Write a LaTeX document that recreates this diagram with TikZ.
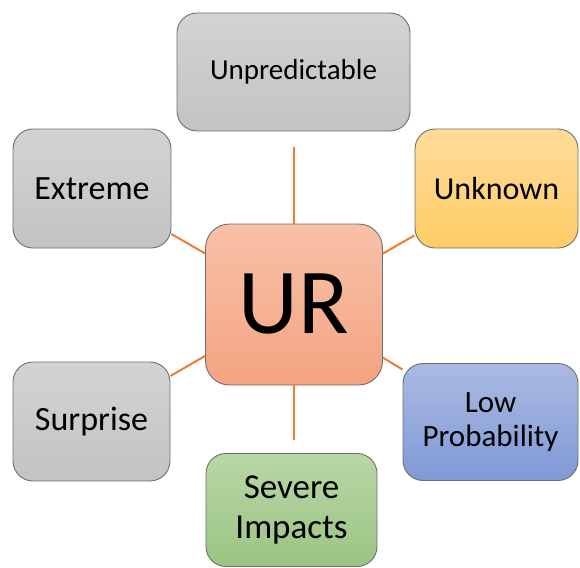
\documentclass[tikz,border=0pt]{standalone}
\usepackage{fontspec}
\setmainfont{Carlito}
\begin{document}
\begin{tikzpicture}[x=1pt,y=-1pt,
  box/.style={rectangle, rounded corners=20pt, draw=boxedge, line width=0.9pt,
    inner sep=0pt, align=center, text=black},
  graybox/.style={box, top color=grayTop, bottom color=grayBot},
  link/.style={draw=linkorange, line width=2pt}]
\definecolor{boxedge}{HTML}{6E6E6E}
\definecolor{grayTop}{HTML}{D3D3D3}
\definecolor{grayBot}{HTML}{C3C3C3}
\definecolor{linkorange}{HTML}{ED7D31}
\definecolor{urTop}{HTML}{F8C1A7}
\definecolor{urBot}{HTML}{F4A482}
\definecolor{ykTop}{HTML}{FFDC9A}
\definecolor{ykBot}{HTML}{FFCC66}
\definecolor{lpTop}{HTML}{AABAE2}
\definecolor{lpBot}{HTML}{7F99D6}
\definecolor{svTop}{HTML}{B8D7A6}
\definecolor{svBot}{HTML}{9BC482}
\useasboundingbox (0,0) rectangle (580,567);

% central node
\node[box, top color=urTop, bottom color=urBot, rounded corners=24pt,
  minimum width=177pt, minimum height=161pt,
  font=\fontsize{93}{100}\selectfont] (ur) at (294,304.5) {UR};

% surrounding attributes
\node[graybox, minimum width=233pt, minimum height=118pt,
  font=\fontsize{29}{34}\selectfont] (unp) at (293.5,72) {Unpredictable};
\node[graybox, minimum width=158pt, minimum height=119pt,
  font=\fontsize{34}{40}\selectfont] (ext) at (92,188.5) {Extreme};
\node[box, top color=ykTop, bottom color=ykBot,
  minimum width=163pt, minimum height=119pt,
  font=\fontsize{32}{38}\selectfont] (unk) at (496.5,188.5) {Unknown};
\node[graybox, minimum width=157pt, minimum height=119pt,
  font=\fontsize{34}{40}\selectfont] (sur) at (91.5,421.5) {Surprise};
\node[box, top color=lpTop, bottom color=lpBot,
  minimum width=175pt, minimum height=117pt,
  font=\fontsize{31}{34}\selectfont] (low) at (490.5,422) {Low\\Probability};
\node[box, top color=svTop, bottom color=svBot,
  minimum width=171pt, minimum height=113pt,
  font=\fontsize{35}{40}\selectfont] (sev) at (291.5,510) {Severe\\Impacts};

% connectors
\draw[link, shorten >=16pt] (ur.north) -- (ur.north |- unp.south);
\draw[link, shorten >=13pt] (ur.south) -- (ur.south |- sev.north);
\draw[link] (ur) -- (ext);
\draw[link] (ur) -- (unk);
\draw[link] (ur) -- (sur);
\draw[link] (ur) -- (low);
\end{tikzpicture}
\end{document}
